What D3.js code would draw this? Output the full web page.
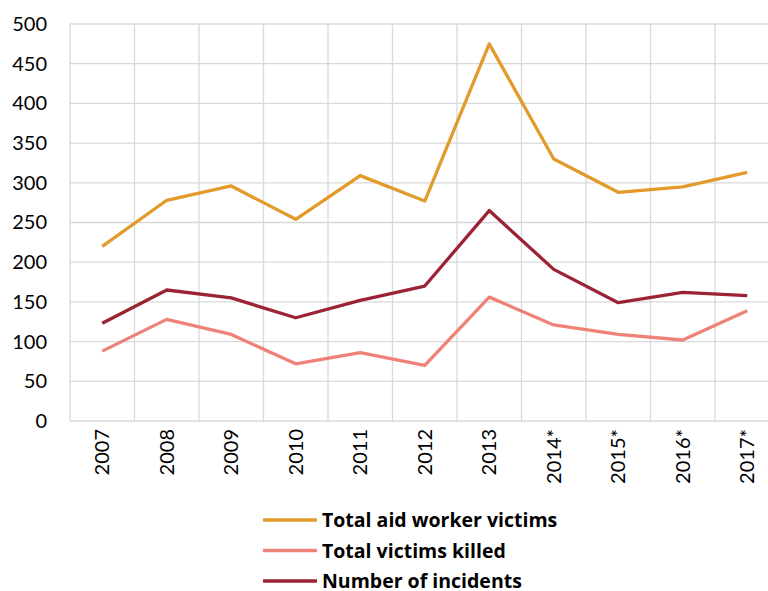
<!DOCTYPE html>
<html>
<head>
<meta charset="utf-8">
<script src="https://cdn.jsdelivr.net/npm/d3@7"></script>
<style>
  body { margin: 0; background: #fff; }
  svg { display: block; }
</style>
</head>
<body>
<div id="chart"></div>
<script>
// donnees
var years = ["2007", "2008", "2009", "2010", "2011", "2012", "2013", "2014*", "2015*", "2016*", "2017*"];
var aidVictims = [220, 278, 296, 254, 309, 277, 475, 330, 288, 295, 313];
var killed = [88, 128, 109, 72, 86, 70, 156, 121, 109, 102, 139];
var incidents = [123, 165, 155, 130, 152, 170, 265, 191, 149, 162, 158];
var yTicks = [0, 50, 100, 150, 200, 250, 300, 350, 400, 450, 500];
var seriesNames = ["Total aid worker victims", "Total victims killed", "Number of incidents"];
var seriesColors = ["#E29A2B", "#EE8276", "#9B2335"];

var width = 768,
    height = 591;

var svg = d3.select("#chart")
    .append("svg")
    .attr("width", width)
    .attr("height", height)
    .style("font-family", "Lato, 'Open Sans', sans-serif");

var x = d3.scaleBand()
    .domain(years)
    .range([70, 779.5]);

var y = d3.scaleLinear()
    .domain([0, 500])
    .range([421, 24]);

// grille horizontale
svg.append("g")
    .selectAll("line")
    .data(yTicks)
    .join("line")
    .attr("x1", 70)
    .attr("x2", 779.5)
    .attr("y1", function(d) { return y(d); })
    .attr("y2", function(d) { return y(d); })
    .attr("stroke", "#D9D9D9")
    .attr("stroke-width", 1.3);

// grille verticale (bords des categories)
svg.append("g")
    .selectAll("line")
    .data(years)
    .join("line")
    .attr("x1", function(d) { return x(d); })
    .attr("x2", function(d) { return x(d); })
    .attr("y1", y(500))
    .attr("y2", y(0))
    .attr("stroke", "#D9D9D9")
    .attr("stroke-width", 1.3);

// axe y
var yAxis = svg.append("g")
    .attr("transform", "translate(70,0)")
    .call(d3.axisLeft(y).tickValues(yTicks).tickSize(0).tickPadding(23));
yAxis.select(".domain").remove();
yAxis.selectAll("text")
    .attr("font-size", 20)
    .attr("font-family", "Lato, 'Open Sans', sans-serif")
    .attr("fill", "#000");

// axe x
var xAxis = svg.append("g")
    .attr("transform", "translate(0," + y(0) + ")")
    .call(d3.axisBottom(x).tickSize(0));
xAxis.select(".domain").remove();
xAxis.selectAll("text")
    .attr("font-size", 20)
    .attr("font-family", "Lato, 'Open Sans', sans-serif")
    .attr("fill", "#000")
    .attr("transform", "rotate(-90)")
    .attr("text-anchor", "end")
    .attr("x", -8)
    .attr("y", 0)
    .attr("dy", "0.35em");

// lignes
var line = d3.line()
    .x(function(d, i) { return x(years[i]) + x.bandwidth() / 2; })
    .y(function(d) { return y(d); });

var allSeries = [aidVictims, killed, incidents];
svg.append("g")
    .selectAll("path")
    .data([incidents, killed, aidVictims])
    .join("path")
    .attr("d", line)
    .attr("fill", "none")
    .attr("stroke", function(d) { return seriesColors[allSeries.indexOf(d)]; })
    .attr("stroke-width", 3.3)
    .attr("stroke-linejoin", "round");

// legende
var legend = svg.append("g")
    .selectAll("g")
    .data(seriesNames)
    .join("g")
    .attr("transform", function(d, i) { return "translate(263," + (520 + i * 30.5) + ")"; });

legend.append("line")
    .attr("x1", 0)
    .attr("x2", 54)
    .attr("stroke", function(d, i) { return seriesColors[i]; })
    .attr("stroke-width", 3.3);

legend.append("text")
    .attr("x", 59)
    .attr("dy", "0.36em")
    .attr("font-size", 19.5)
    .attr("font-family", "'Open Sans', sans-serif")
    .attr("font-weight", "bold")
    .attr("fill", "#000")
    .text(function(d) { return d; });
</script>
</body>
</html>
